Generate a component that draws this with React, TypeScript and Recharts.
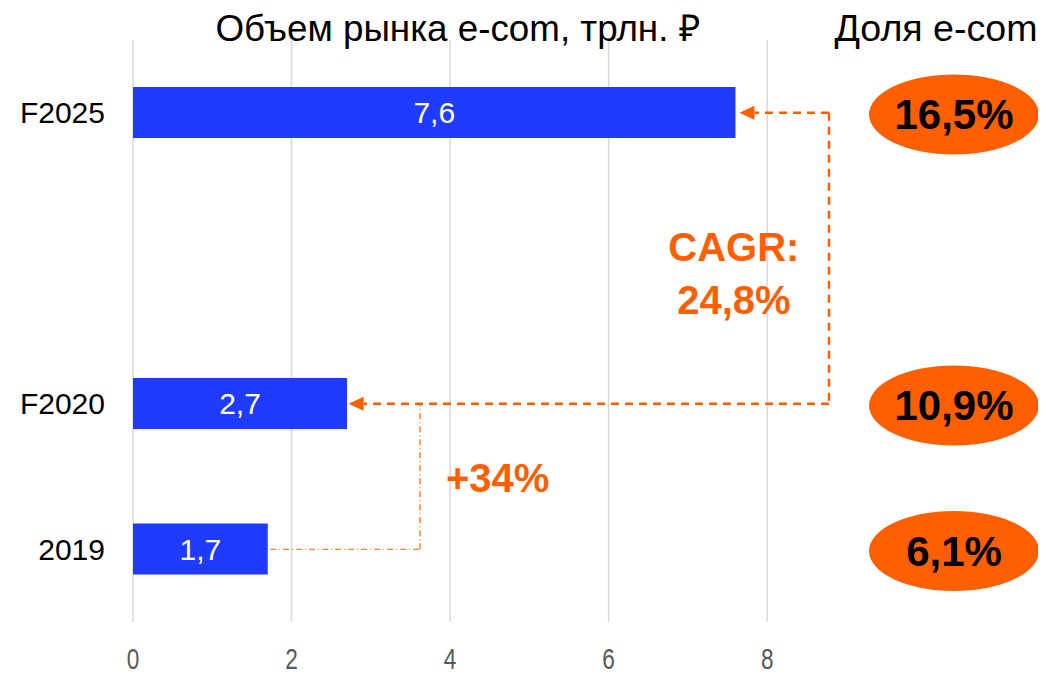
import { Bar, BarChart, CartesianGrid, LabelList, ReferenceDot, ReferenceLine, XAxis, YAxis } from "recharts";

const categories = ["F2025", " ", "F2020", "2019"];
const volumes = [7.6, null, 2.7, 1.7];
const volumeLabels = ["7,6", null, "2,7", "1,7"];
const shares = ["16,5%", null, "10,9%", "6,1%"];
const xTicks = [0, 2, 4, 6, 8];
const cagrLines = ["CAGR:", "24,8%"];
const growthLabel = "+34%";
const volumeTitle = "Объем рынка e-com, трлн. ₽";
const shareTitle = "Доля e-com";

const ORANGE = "#FF5F00";
const BLUE = "#1F3BFF";
const FONT = "'Liberation Sans', Arial, sans-serif";

const data = categories.map((name, i) => ({
  name,
  volume: volumes[i],
  label: volumeLabels[i],
  share: shares[i],
}));

// where the connectors turn, in axis units
const cagrTurn = 8.78;
const growthTurn = 3.62;

function Connector(props: any) {
  const { x1, y1, x2, y2, dash, width, arrow } = props;
  const len = Math.hypot(x2 - x1, y2 - y1) || 1;
  const ux = (x2 - x1) / len;
  const uy = (y2 - y1) / len;
  const head = 15;
  const half = 7;
  const ex = arrow ? x2 - ux * head : x2;
  const ey = arrow ? y2 - uy * head : y2;
  return (
    <g>
      <line x1={x1} y1={y1} x2={ex} y2={ey} stroke={ORANGE} strokeWidth={width} strokeDasharray={dash} />
      {arrow && (
        <polygon
          points={`${x2},${y2} ${ex - uy * half},${ey + ux * half} ${ex + uy * half},${ey - ux * half}`}
          fill={ORANGE}
        />
      )}
    </g>
  );
}

function ShareOval(props: any) {
  const { y, height, value } = props;
  if (value == null) return null;
  const cy = y + height / 2 + 2;
  const cx = 946;
  return (
    <g>
      <ellipse cx={cx} cy={cy} rx={85} ry={40} fill={ORANGE} />
      <text x={cx} y={cy} dy="0.35em" textAnchor="middle" fontSize={42} fontWeight="bold" fill="#000" fontFamily={FONT}>
        {value}
      </text>
    </g>
  );
}

function NoteText({ cx, cy, lines, offset, gap }: any) {
  return (
    <g>
      {lines.map((t: string, i: number) => (
        <text
          key={t}
          x={cx}
          y={cy + offset + i * gap}
          dy="0.35em"
          textAnchor="middle"
          fontSize={40}
          fontWeight="bold"
          fill={ORANGE}
          fontFamily={FONT}
        >
          {t}
        </text>
      ))}
    </g>
  );
}

function XTick({ x, y, payload }: any) {
  return (
    <text
      x={x}
      y={y}
      dy="0.35em"
      textAnchor="middle"
      fontSize={29}
      fill="#595959"
      fontFamily={FONT}
      transform={`translate(${x} 0) scale(0.78 1) translate(${-x} 0)`}
    >
      {payload.value}
    </text>
  );
}

export default function App() {
  return (
    <div style={{ position: "relative", width: 1038, height: 667, fontFamily: FONT }}>
      <BarChart
        width={1038}
        height={667}
        data={data}
        layout="vertical"
        margin={{ top: 32, right: 41, bottom: 0, left: 0 }}
        style={{ position: "absolute", left: 0, top: 0 }}
      >
        <CartesianGrid horizontal={false} verticalValues={xTicks} stroke="#D9D9D9" strokeWidth={1.5} />
        <XAxis
          type="number"
          domain={[0, 11]}
          ticks={xTicks}
          axisLine={false}
          tickLine={false}
          tickSize={0}
          tickMargin={37}
          height={53}
          tick={<XTick />}
        />
        <YAxis
          type="category"
          dataKey="name"
          width={125}
          axisLine={false}
          tickLine={false}
          tickSize={0}
          tickMargin={28}
          tick={{ fontSize: 30, fill: "#000", fontFamily: FONT }}
        />
        <Bar dataKey="volume" fill={BLUE} barSize={51} isAnimationActive={false}>
          <LabelList dataKey="label" position="center" fill="#fff" fontSize={30} fontFamily={FONT} />
          <LabelList dataKey="share" content={ShareOval} />
        </Bar>
        <ReferenceLine
          segment={[{ x: cagrTurn, y: categories[0] }, { x: (volumes[0] as number) + 0.05, y: categories[0] }]}
          shape={(p: any) => <Connector {...p} dash="8 6" width={2.5} arrow />}
        />
        <ReferenceLine
          segment={[{ x: cagrTurn, y: categories[0] }, { x: cagrTurn, y: categories[2] }]}
          shape={(p: any) => <Connector {...p} dash="8 6" width={2.5} />}
        />
        <ReferenceLine
          segment={[{ x: cagrTurn, y: categories[2] }, { x: (volumes[2] as number) + 0.02, y: categories[2] }]}
          shape={(p: any) => <Connector {...p} dash="8 6" width={2.5} arrow />}
        />
        <ReferenceLine
          segment={[{ x: (volumes[3] as number) + 0.03, y: categories[3] }, { x: growthTurn, y: categories[3] }]}
          shape={(p: any) => <Connector {...p} dash="6 3 1 3" width={1.2} />}
        />
        <ReferenceLine
          segment={[{ x: growthTurn, y: categories[3] }, { x: growthTurn, y: categories[2] }]}
          shape={(p: any) => <Connector {...p} dash="6 3 1 3" width={1.2} />}
        />
        <ReferenceDot
          x={7.58}
          y={categories[1]}
          shape={(p: any) => <NoteText cx={p.cx} cy={p.cy} lines={cagrLines} offset={-11} gap={53} />}
        />
        <ReferenceDot
          x={4.6}
          y={categories[2]}
          shape={(p: any) => <NoteText cx={p.cx} cy={p.cy} lines={[growthLabel]} offset={74} gap={0} />}
        />
      </BarChart>
      <svg width={1038} height={60} style={{ position: "absolute", left: 0, top: 0, pointerEvents: "none" }}>
        <text x={450} y={33} textAnchor="middle" fontSize={37} fontFamily={FONT} textLength={485} lengthAdjust="spacingAndGlyphs" fill="#000">
          {volumeTitle}
        </text>
        <text x={928} y={33} textAnchor="middle" fontSize={37} fontFamily={FONT} textLength={203} lengthAdjust="spacingAndGlyphs" fill="#000">
          {shareTitle}
        </text>
      </svg>
    </div>
  );
}
